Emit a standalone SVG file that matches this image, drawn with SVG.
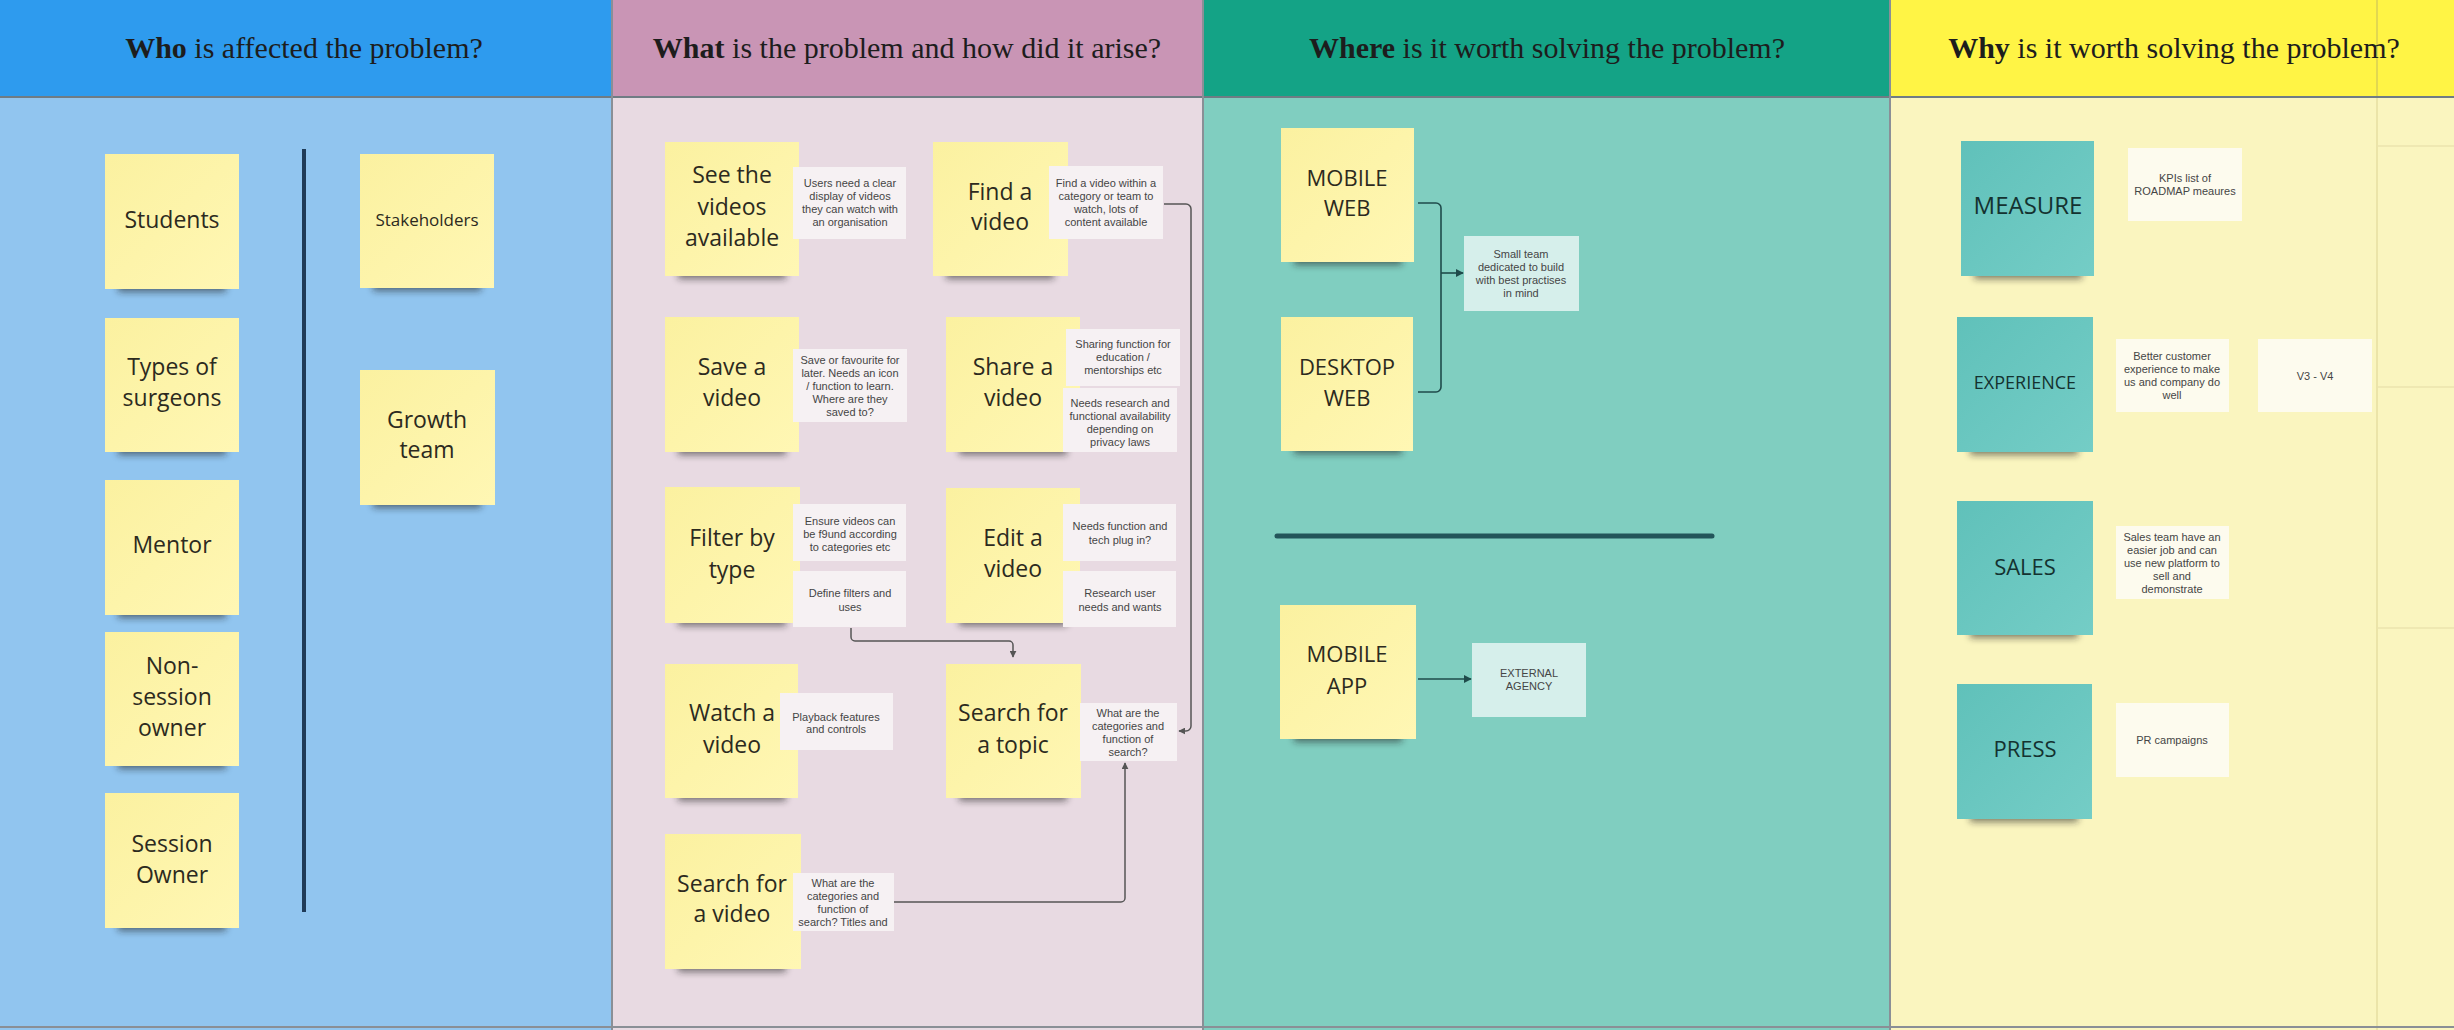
<svg xmlns="http://www.w3.org/2000/svg" width="2454" height="1030" viewBox="0 0 2454 1030">
<style>
.hdr{font-family:"Liberation Serif","Times New Roman",serif;font-size:30px;fill:#1d1d1d;text-anchor:middle}
.b{font-weight:bold}
.st{fill:url(#yel)}
.tl{fill:url(#teal)}
.sh{fill:#1a1a1a;opacity:.55;filter:url(#blur)}
.t{font-family:"Open Sans","Noto Sans",sans-serif;font-size:23px;fill:#2c2a1e;text-anchor:middle}
.tt{font-family:"Open Sans","Noto Sans",sans-serif;font-size:22px;fill:#143230;text-anchor:middle}
.n{font-family:"Liberation Sans",Arial,sans-serif;font-size:11px;fill:#454545;text-anchor:middle}
.nw{fill:#f6f1f3}
.nc{fill:#d6efeb}
.ny{fill:#fdfbee}
.con{fill:none;stroke:#555;stroke-width:1.5}
.cont{fill:none;stroke:#1f4b4b;stroke-width:1.6}
</style>
<defs>
<linearGradient id="yel" x1="0" y1="0" x2="1" y2="1"><stop offset="0" stop-color="#fbf1a0"/><stop offset="1" stop-color="#fff7b4"/></linearGradient>
<linearGradient id="teal" x1="0" y1="0" x2="1" y2="1"><stop offset="0" stop-color="#60c1ba"/><stop offset="1" stop-color="#74cdc6"/></linearGradient>
<filter id="blur" x="-20%" y="-100%" width="140%" height="300%"><feGaussianBlur stdDeviation="3.5"/></filter>
<marker id="ah" viewBox="0 0 10 10" refX="9" refY="5" markerWidth="7" markerHeight="7" orient="auto" markerUnits="userSpaceOnUse"><path d="M0,0 L10,5 L0,10 z" fill="#555"/></marker>
<marker id="aht" viewBox="0 0 10 10" refX="9" refY="5" markerWidth="8" markerHeight="8" orient="auto" markerUnits="userSpaceOnUse"><path d="M0,0 L10,5 L0,10 z" fill="#1f4b4b"/></marker>
</defs>

<!-- backgrounds -->
<g id="columns">
<rect x="0" y="0" width="612" height="97" fill="#2e9bee"/>
<rect x="0" y="97" width="612" height="933" fill="#91c5ef"/>
<rect x="612" y="0" width="591" height="97" fill="#c995b5"/>
<rect x="612" y="97" width="591" height="933" fill="#e8dae2"/>
<rect x="1203" y="0" width="687" height="97" fill="#14a386"/>
<rect x="1203" y="97" width="687" height="933" fill="#80cec0"/>
<rect x="1890" y="0" width="564" height="97" fill="#fff445"/>
<rect x="1890" y="97" width="564" height="933" fill="#faf5bf"/>
<line x1="2377" y1="0" x2="2377" y2="97" stroke="#d9cf55" stroke-width="1.5"/>
<line x1="2377" y1="97" x2="2377" y2="1030" stroke="#e6dea2" stroke-width="1.5"/>
<line x1="2377" y1="146" x2="2454" y2="146" stroke="#ebe3ae" stroke-width="1.5"/>
<line x1="2377" y1="387" x2="2454" y2="387" stroke="#ebe3ae" stroke-width="1.5"/>
<line x1="2377" y1="628" x2="2454" y2="628" stroke="#ebe3ae" stroke-width="1.5"/>
<line x1="0" y1="97" x2="2454" y2="97" stroke="#6f7c84" stroke-width="2"/>
<line x1="612" y1="0" x2="612" y2="1030" stroke="#8a8f96" stroke-width="2"/>
<line x1="1203" y1="0" x2="1203" y2="1030" stroke="#8a8f96" stroke-width="2"/>
<line x1="1890" y1="0" x2="1890" y2="1030" stroke="#8a8f96" stroke-width="2"/>
<line x1="0" y1="1027" x2="2454" y2="1027" stroke="#8a8f96" stroke-width="2"/>
<text class="hdr" x="304" y="58"><tspan class="b">Who</tspan> is affected the problem?</text>
<text class="hdr" x="907" y="58"><tspan class="b">What</tspan> is the problem and how did it arise?</text>
<text class="hdr" x="1547" y="58"><tspan class="b">Where</tspan> is it worth solving the problem?</text>
<text class="hdr" x="2174" y="58"><tspan class="b">Why</tspan> is it worth solving the problem?</text>
</g>

<!-- dividers -->
<g id="dividers">
<line x1="304" y1="149" x2="304" y2="912" stroke="#1f3b58" stroke-width="4"/>
<line x1="1277" y1="536" x2="1712" y2="536" stroke="#23555a" stroke-width="5" stroke-linecap="round"/>
</g>

<!-- Column 1 -->
<g id="students"><rect class="sh" x="118" y="278" width="108" height="14"/><rect class="st" x="105" y="154" width="134" height="135"/><text class="t" x="172" y="228">Students</text></g>
<g id="types-of-surgeons"><rect class="sh" x="118" y="441" width="108" height="14"/><rect class="st" x="105" y="318" width="134" height="134"/><text class="t" x="172" y="375">Types of</text><text class="t" x="172" y="406">surgeons</text></g>
<g id="mentor"><rect class="sh" x="118" y="604" width="108" height="14"/><rect class="st" x="105" y="480" width="134" height="135"/><text class="t" x="172" y="553">Mentor</text></g>
<g id="non-session-owner"><rect class="sh" x="118" y="755" width="108" height="14"/><rect class="st" x="105" y="632" width="134" height="134"/><text class="t" x="172" y="674">Non-</text><text class="t" x="172" y="705">session</text><text class="t" x="172" y="736">owner</text></g>
<g id="session-owner"><rect class="sh" x="118" y="917" width="108" height="14"/><rect class="st" x="105" y="793" width="134" height="135"/><text class="t" x="172" y="852">Session</text><text class="t" x="172" y="883">Owner</text></g>
<g id="stakeholders"><rect class="sh" x="373" y="277" width="108" height="14"/><rect class="st" x="360" y="154" width="134" height="134"/><text class="t" x="427" y="226" style="font-size:17px">Stakeholders</text></g>
<g id="growth-team"><rect class="sh" x="373" y="494" width="108" height="14"/><rect class="st" x="360" y="370" width="135" height="135"/><text class="t" x="427" y="428">Growth</text><text class="t" x="427" y="458">team</text></g>

<!-- Column 2 connectors -->
<g id="connectors-what">
<path class="con" d="M1164 204 H1186 A5 5 0 0 1 1191 209 V726 A5 5 0 0 1 1186 731 H1179" marker-end="url(#ah)"/>
<path class="con" d="M851 628 V637 A4 4 0 0 0 855 641 H1009 A4 4 0 0 1 1013 645 V657" marker-end="url(#ah)"/>
<path class="con" d="M894 902 H1121 A4 4 0 0 0 1125 898 V763" marker-end="url(#ah)"/>
</g>

<!-- Column 2 -->
<g id="see-videos"><rect class="sh" x="678" y="265" width="108" height="14"/><rect class="st" x="665" y="142" width="134" height="134"/><text class="t" x="732" y="183">See the</text><text class="t" x="732" y="215">videos</text><text class="t" x="732" y="246">available</text></g>
<g id="note-see-videos"><rect class="nw" x="793" y="167" width="113" height="72"/><text class="n" x="850" y="187">Users need a clear</text><text class="n" x="850" y="200">display of videos</text><text class="n" x="850" y="213">they can watch with</text><text class="n" x="850" y="226">an organisation</text></g>

<g id="find-video"><rect class="sh" x="946" y="265" width="108" height="14"/><rect class="st" x="933" y="142" width="135" height="134"/><text class="t" x="1000" y="200">Find a</text><text class="t" x="1000" y="230">video</text></g>
<g id="note-find-video"><rect class="nw" x="1049" y="166" width="114" height="73"/><text class="n" x="1106" y="187">Find a video within a</text><text class="n" x="1106" y="200">category or team to</text><text class="n" x="1106" y="213">watch, lots of</text><text class="n" x="1106" y="226">content available</text></g>

<g id="save-video"><rect class="sh" x="678" y="441" width="108" height="14"/><rect class="st" x="665" y="317" width="134" height="135"/><text class="t" x="732" y="375">Save a</text><text class="t" x="732" y="406">video</text></g>
<g id="note-save-video"><rect class="nw" x="793" y="349" width="114" height="73"/><text class="n" x="850" y="364">Save or favourite for</text><text class="n" x="850" y="377">later. Needs an icon</text><text class="n" x="850" y="390">/ function to learn.</text><text class="n" x="850" y="403">Where are they</text><text class="n" x="850" y="416">saved to?</text></g>

<g id="share-video"><rect class="sh" x="959" y="441" width="108" height="14"/><rect class="st" x="946" y="317" width="134" height="135"/><text class="t" x="1013" y="375">Share a</text><text class="t" x="1013" y="406">video</text></g>
<g id="note-share-a"><rect class="nw" x="1066" y="329" width="114" height="57"/><text class="n" x="1123" y="348">Sharing function for</text><text class="n" x="1123" y="361">education /</text><text class="n" x="1123" y="374">mentorships etc</text></g>
<g id="note-share-b"><rect class="nw" x="1063" y="388" width="114" height="64"/><text class="n" x="1120" y="407">Needs research and</text><text class="n" x="1120" y="420">functional availability</text><text class="n" x="1120" y="433">depending on</text><text class="n" x="1120" y="446">privacy laws</text></g>

<g id="filter-type"><rect class="sh" x="678" y="612" width="108" height="14"/><rect class="st" x="665" y="487" width="135" height="136"/><text class="t" x="732" y="546">Filter by</text><text class="t" x="732" y="578">type</text></g>
<g id="note-filter-a"><rect class="nw" x="793" y="504" width="113" height="57"/><text class="n" x="850" y="525">Ensure videos can</text><text class="n" x="850" y="538">be f9und according</text><text class="n" x="850" y="551">to categories etc</text></g>
<g id="note-filter-b"><rect class="nw" x="793" y="571" width="113" height="56"/><text class="n" x="850" y="597">Define filters and</text><text class="n" x="850" y="611">uses</text></g>

<g id="edit-video"><rect class="sh" x="959" y="612" width="108" height="14"/><rect class="st" x="946" y="488" width="134" height="135"/><text class="t" x="1013" y="546">Edit a</text><text class="t" x="1013" y="577">video</text></g>
<g id="note-edit-a"><rect class="nw" x="1063" y="504" width="113" height="57"/><text class="n" x="1120" y="530">Needs function and</text><text class="n" x="1120" y="544">tech plug in?</text></g>
<g id="note-edit-b"><rect class="nw" x="1063" y="571" width="113" height="56"/><text class="n" x="1120" y="597">Research user</text><text class="n" x="1120" y="611">needs and wants</text></g>

<g id="watch-video"><rect class="sh" x="678" y="787" width="108" height="14"/><rect class="st" x="665" y="664" width="133" height="134"/><text class="t" x="732" y="721">Watch a</text><text class="t" x="732" y="753">video</text></g>
<g id="note-watch"><rect class="nw" x="780" y="693" width="113" height="57"/><text class="n" x="836" y="721">Playback features</text><text class="n" x="836" y="733">and controls</text></g>

<g id="search-topic"><rect class="sh" x="959" y="787" width="108" height="14"/><rect class="st" x="946" y="664" width="135" height="134"/><text class="t" x="1013" y="721">Search for</text><text class="t" x="1013" y="753">a topic</text></g>
<g id="note-search-topic"><rect class="nw" x="1080" y="703" width="97" height="58"/><text class="n" x="1128" y="717">What are the</text><text class="n" x="1128" y="730">categories and</text><text class="n" x="1128" y="743">function of</text><text class="n" x="1128" y="756">search?</text></g>

<g id="search-video"><rect class="sh" x="678" y="958" width="108" height="14"/><rect class="st" x="665" y="834" width="136" height="135"/><text class="t" x="732" y="892">Search for</text><text class="t" x="732" y="922">a video</text></g>
<g id="note-search-video"><rect class="nw" x="793" y="873" width="101" height="58"/><text class="n" x="843" y="887">What are the</text><text class="n" x="843" y="900">categories and</text><text class="n" x="843" y="913">function of</text><text class="n" x="843" y="926">search? Titles and</text></g>

<!-- Column 3 connectors -->
<g id="connectors-where">
<path class="cont" d="M1418 203 H1436 A5 5 0 0 1 1441 208 V387 A5 5 0 0 1 1436 392 H1418"/>
<path class="cont" d="M1441 273 H1463" marker-end="url(#aht)"/>
<path class="cont" d="M1418 679 H1471" marker-end="url(#aht)"/>
</g>

<!-- Column 3 -->
<g id="mobile-web"><rect class="sh" x="1294" y="251" width="108" height="14"/><rect class="st" x="1281" y="128" width="133" height="134"/><text class="t" x="1347" y="186" style="font-size:22px">MOBILE</text><text class="t" x="1347" y="216" style="font-size:22px">WEB</text></g>
<g id="desktop-web"><rect class="sh" x="1294" y="440" width="108" height="14"/><rect class="st" x="1281" y="317" width="132" height="134"/><text class="t" x="1347" y="375" style="font-size:22px">DESKTOP</text><text class="t" x="1347" y="406" style="font-size:22px">WEB</text></g>
<g id="note-small-team"><rect class="nc" x="1464" y="236" width="115" height="75"/><text class="n" x="1521" y="258">Small team</text><text class="n" x="1521" y="271">dedicated to build</text><text class="n" x="1521" y="284">with best practises</text><text class="n" x="1521" y="297">in mind</text></g>
<g id="mobile-app"><rect class="sh" x="1294" y="728" width="108" height="14"/><rect class="st" x="1280" y="605" width="136" height="134"/><text class="t" x="1347" y="662" style="font-size:22px">MOBILE</text><text class="t" x="1347" y="694" style="font-size:22px">APP</text></g>
<g id="external-agency"><rect class="nc" x="1472" y="643" width="114" height="74"/><text class="n" x="1529" y="677">EXTERNAL</text><text class="n" x="1529" y="690">AGENCY</text></g>

<!-- Column 4 -->
<g id="measure"><rect class="sh" x="1974" y="265" width="108" height="14"/><rect class="tl" x="1961" y="141" width="133" height="135"/><text class="tt" x="2028" y="214" style="font-size:24px">MEASURE</text></g>
<g id="note-kpis"><rect class="ny" x="2128" y="148" width="114" height="73"/><text class="n" x="2185" y="182">KPIs list of</text><text class="n" x="2185" y="195">ROADMAP meaures</text></g>
<g id="experience"><rect class="sh" x="1970" y="441" width="108" height="14"/><rect class="tl" x="1957" y="317" width="136" height="135"/><text class="tt" x="2025" y="389" style="font-size:18px">EXPERIENCE</text></g>
<g id="note-experience"><rect class="ny" x="2116" y="339" width="113" height="73"/><text class="n" x="2172" y="360">Better customer</text><text class="n" x="2172" y="373">experience to make</text><text class="n" x="2172" y="386">us and company do</text><text class="n" x="2172" y="399">well</text></g>
<g id="note-v3v4"><rect class="ny" x="2258" y="339" width="114" height="73"/><text class="n" x="2315" y="380">V3 - V4</text></g>
<g id="sales"><rect class="sh" x="1970" y="624" width="108" height="14"/><rect class="tl" x="1957" y="501" width="136" height="134"/><text class="tt" x="2025" y="575">SALES</text></g>
<g id="note-sales"><rect class="ny" x="2116" y="526" width="113" height="73"/><text class="n" x="2172" y="541">Sales team have an</text><text class="n" x="2172" y="554">easier job and can</text><text class="n" x="2172" y="567">use new platform to</text><text class="n" x="2172" y="580">sell and</text><text class="n" x="2172" y="593">demonstrate</text></g>
<g id="press"><rect class="sh" x="1970" y="808" width="108" height="14"/><rect class="tl" x="1957" y="684" width="135" height="135"/><text class="tt" x="2025" y="757">PRESS</text></g>
<g id="note-press"><rect class="ny" x="2116" y="703" width="113" height="74"/><text class="n" x="2172" y="744">PR campaigns</text></g>
</svg>
